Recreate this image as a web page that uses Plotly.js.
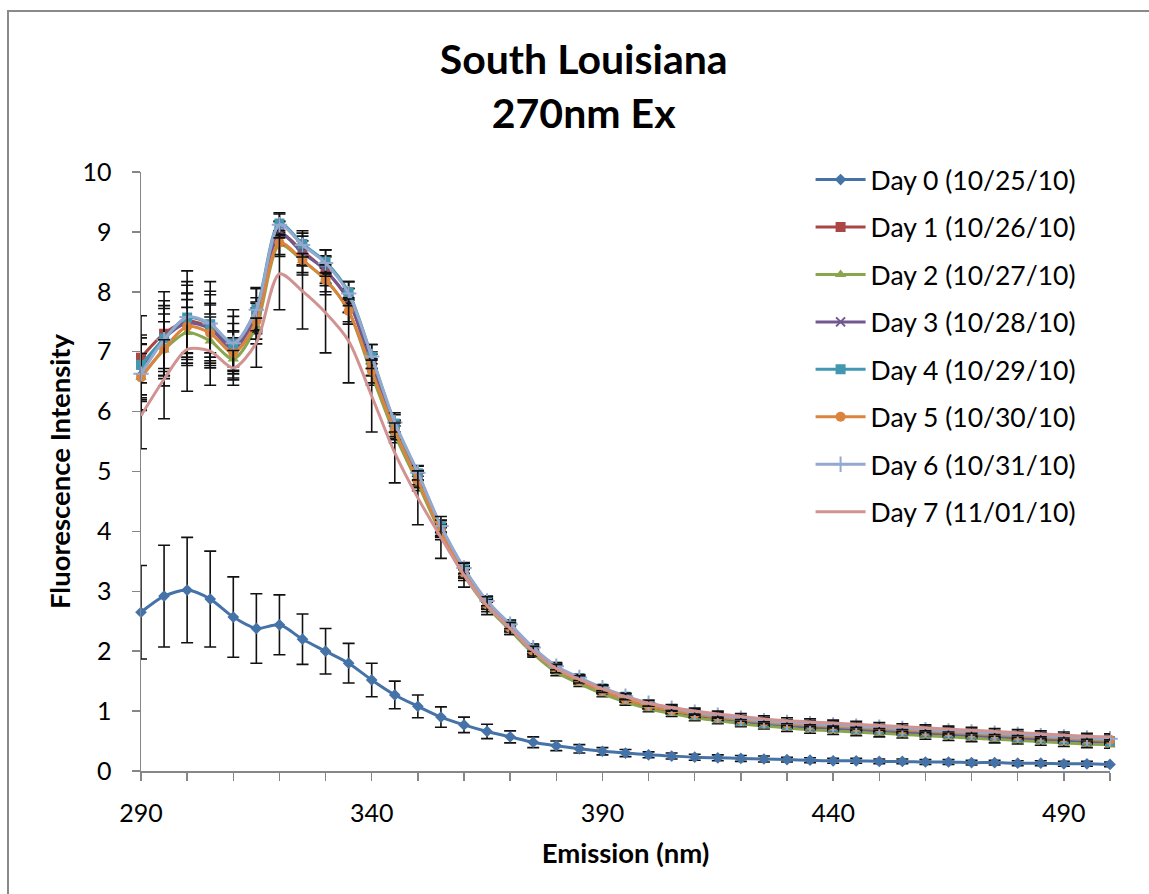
<!DOCTYPE html>
<html>
<head>
<meta charset="utf-8">
<script src="https://cdn.plot.ly/plotly-3.0.1.min.js"></script>
<style>
  html, body { margin:0; padding:0; background:#fff; overflow:hidden; }
  #wrap { position:relative; width:1149px; height:894px; }
  #chart { position:absolute; left:0; top:0; width:1149px; height:894px; }
  #frame { position:absolute; left:7px; top:10px; width:1200px; height:1000px; border:2px solid #8a8a8a; pointer-events:none; }
</style>
</head>
<body>
<div id="wrap"><div id="chart"></div><div id="frame"></div></div>
<script>
// Emission wavelengths (nm)
var wavelength = [290,295,300,305,310,315,320,325,330,335,340,345,350,355,360,365,370,375,380,385,390,395,400,405,410,415,420,425,430,435,440,445,450,455,460,465,470,475,480,485,490,495,500];

var seriesNames = ["Day 0 (10/25/10)","Day 1 (10/26/10)","Day 2 (10/27/10)","Day 3 (10/28/10)","Day 4 (10/29/10)","Day 5 (10/30/10)","Day 6 (10/31/10)","Day 7 (11/01/10)"];

var day0 = [2.65,2.92,3.02,2.87,2.57,2.38,2.44,2.20,2.00,1.80,1.52,1.27,1.08,0.90,0.77,0.66,0.57,0.48,0.42,0.37,0.33,0.30,0.27,0.25,0.23,0.22,0.21,0.20,0.19,0.18,0.17,0.17,0.16,0.16,0.15,0.15,0.14,0.14,0.13,0.13,0.12,0.12,0.11];
var day1 = [6.90,7.30,7.51,7.40,7.07,7.60,8.97,8.68,8.35,7.85,6.80,5.70,4.88,4.02,3.33,2.79,2.40,2.01,1.70,1.51,1.34,1.20,1.08,1.00,0.93,0.88,0.83,0.79,0.76,0.73,0.71,0.69,0.67,0.65,0.63,0.61,0.59,0.57,0.55,0.53,0.51,0.49,0.48];
var day2 = [6.57,7.03,7.32,7.18,6.88,7.43,8.79,8.52,8.20,7.68,6.62,5.62,4.80,3.96,3.27,2.74,2.35,1.96,1.65,1.46,1.29,1.15,1.04,0.96,0.89,0.84,0.79,0.75,0.72,0.69,0.67,0.65,0.63,0.61,0.59,0.57,0.55,0.53,0.51,0.49,0.47,0.45,0.44];
var day3 = [6.68,7.22,7.48,7.38,7.05,7.58,8.98,8.65,8.36,7.86,6.78,5.72,4.90,4.03,3.34,2.80,2.41,2.02,1.71,1.52,1.35,1.21,1.09,1.01,0.94,0.89,0.84,0.80,0.77,0.74,0.72,0.70,0.68,0.66,0.64,0.62,0.60,0.58,0.56,0.54,0.52,0.50,0.49];
var day4 = [6.78,7.22,7.57,7.46,7.13,7.72,9.14,8.80,8.50,7.99,6.92,5.80,4.97,4.08,3.38,2.83,2.44,2.05,1.74,1.55,1.38,1.24,1.10,1.02,0.95,0.90,0.85,0.81,0.78,0.76,0.74,0.72,0.70,0.68,0.66,0.64,0.62,0.60,0.58,0.56,0.54,0.52,0.50];
var day5 = [6.57,7.05,7.42,7.31,6.98,7.51,8.82,8.53,8.20,7.68,6.68,5.68,4.85,4.00,3.31,2.78,2.39,2.00,1.70,1.51,1.34,1.20,1.09,1.01,0.95,0.90,0.86,0.82,0.79,0.77,0.75,0.73,0.71,0.69,0.67,0.65,0.63,0.61,0.59,0.57,0.55,0.53,0.52];
var day6 = [6.63,7.20,7.58,7.47,7.14,7.70,9.12,8.78,8.48,7.97,6.92,5.82,4.98,4.09,3.39,2.84,2.45,2.06,1.75,1.56,1.39,1.25,1.13,1.05,0.98,0.93,0.88,0.84,0.81,0.79,0.77,0.75,0.73,0.71,0.69,0.67,0.65,0.63,0.61,0.59,0.57,0.55,0.54];
var day7 = [5.93,6.54,7.04,7.01,6.73,7.15,8.30,8.01,7.65,7.18,6.26,5.31,4.56,3.90,3.27,2.76,2.38,2.00,1.71,1.53,1.37,1.24,1.13,1.06,1.00,0.95,0.91,0.87,0.84,0.82,0.80,0.78,0.76,0.74,0.72,0.70,0.68,0.66,0.64,0.62,0.60,0.58,0.57];

// Standard deviations (error bars)
var err0 = [0.78,0.85,0.88,0.80,0.67,0.58,0.50,0.42,0.38,0.33,0.28,0.23,0.19,0.17,0.13,0.12,0.10,0.09,0.08,0.07,0.06,0.06,0.05,0.05,0.05,0.05,0.05,0.05,0.04,0.04,0.04,0.04,0.04,0.04,0.04,0.04,0.04,0.04,0.04,0.04,0.04,0.04,0.04];
var err1 = [0.70,0.70,0.60,0.55,0.40,0.30,0.20,0.25,0.25,0.20,0.20,0.15,0.12,0.10,0.09,0.08,0.07,0.06,0.06,0.06,0.05,0.05,0.05,0.05,0.05,0.05,0.06,0.05,0.05,0.05,0.06,0.05,0.05,0.05,0.06,0.05,0.05,0.05,0.06,0.05,0.05,0.05,0.05];
var err2 = [0.55,0.60,0.55,0.45,0.35,0.30,0.20,0.20,0.20,0.18,0.18,0.14,0.12,0.10,0.09,0.08,0.07,0.06,0.06,0.05,0.05,0.05,0.05,0.05,0.05,0.05,0.05,0.05,0.06,0.06,0.06,0.06,0.06,0.06,0.06,0.06,0.06,0.06,0.06,0.06,0.06,0.06,0.06];
var err3 = [0.45,0.50,0.50,0.40,0.30,0.25,0.20,0.20,0.22,0.20,0.18,0.14,0.12,0.10,0.09,0.08,0.07,0.06,0.06,0.05,0.05,0.05,0.05,0.05,0.05,0.05,0.05,0.05,0.05,0.05,0.05,0.05,0.05,0.05,0.05,0.05,0.05,0.05,0.05,0.05,0.05,0.05,0.05];
var err4 = [0.50,0.55,0.60,0.55,0.57,0.35,0.18,0.22,0.20,0.18,0.20,0.15,0.12,0.10,0.09,0.08,0.07,0.06,0.06,0.05,0.05,0.05,0.05,0.05,0.05,0.05,0.05,0.05,0.05,0.05,0.05,0.05,0.05,0.05,0.05,0.05,0.05,0.05,0.05,0.05,0.05,0.05,0.05];
var err5 = [0.40,0.45,0.55,0.50,0.35,0.30,0.20,0.25,0.25,0.22,0.20,0.15,0.12,0.10,0.09,0.08,0.07,0.06,0.06,0.05,0.05,0.05,0.05,0.05,0.05,0.05,0.05,0.05,0.05,0.05,0.05,0.05,0.05,0.05,0.05,0.05,0.05,0.05,0.05,0.05,0.05,0.05,0.05];
var err6 = [0.60,0.65,0.77,0.70,0.45,0.35,0.18,0.20,0.22,0.20,0.20,0.16,0.12,0.10,0.09,0.08,0.07,0.06,0.06,0.05,0.05,0.05,0.05,0.05,0.05,0.05,0.05,0.05,0.05,0.05,0.05,0.05,0.05,0.05,0.05,0.05,0.05,0.05,0.05,0.05,0.05,0.05,0.05];
var err7 = [0.55,0.66,0.70,0.57,0.29,0.41,0.60,0.63,0.67,0.70,0.60,0.50,0.45,0.35,0.20,0.15,0.10,0.08,0.07,0.06,0.06,0.05,0.05,0.05,0.05,0.05,0.05,0.05,0.05,0.05,0.05,0.05,0.05,0.05,0.05,0.05,0.05,0.05,0.05,0.05,0.05,0.05,0.05];

var seriesColors = ["#4572A7","#AA4643","#89A54E","#71588F","#4198AF","#DB843D","#93A9CF","#D19392"];
var seriesSymbols = ["diamond","square","triangle-up","x-thin","square","circle","cross-thin", null];
var markerSizes = [9,10,10,9,10,10,11,0];

var allY = [day0,day1,day2,day3,day4,day5,day6,day7];
var allErr = [err0,err1,err2,err3,err4,err5,err6,err7];

var traces = allY.map(function(y, i){
  var t = {
    type:'scatter',
    mode: seriesSymbols[i] ? 'lines+markers' : 'lines',
    name: seriesNames[i],
    legendgroup: 'g'+i,
    x: wavelength,
    y: y,
    cliponaxis:false,
    line:{color:seriesColors[i], width:3, shape:'spline', smoothing:0.8},
    error_y:{type:'data', array:allErr[i], visible:true, color:'#111111', thickness:1.6, width:6}
  };
  if (seriesSymbols[i]) {
    var thin = seriesSymbols[i].indexOf('thin') >= 0;
    t.marker = {symbol:seriesSymbols[i], size:markerSizes[i], color:seriesColors[i],
      line:{color:seriesColors[i], width: thin ? 2 : 0}};
  }
  return t;
});

var axisColor = '#868686';
var layout = {
  width:1149, height:894,
  margin:{l:141, r:39, t:172, b:123, pad:0},
  paper_bgcolor:'#ffffff', plot_bgcolor:'#ffffff',
  font:{family:'Lato, Carlito, "Open Sans", sans-serif', size:25, color:'#000000'},
  title:{text:'<b>South Louisiana</b><br><b>270nm Ex</b>', xref:'container', x:0.508, xanchor:'center',
         yref:'container', y:0.917, yanchor:'top', font:{size:41, color:'#000'}},
  showlegend:true,
  legend:{xref:'paper', yref:'paper', x:0.691, y:1.027, xanchor:'left', yanchor:'top',
          font:{size:26.5}, traceorder:'grouped', tracegroupgap:10, itemwidth:50,
          bgcolor:'rgba(0,0,0,0)', borderwidth:0},
  xaxis:{range:[290,500], tick0:290, dtick:50, showline:true, linecolor:axisColor, linewidth:1.5,
         ticks:'outside', ticklen:8, tickwidth:1.5, tickcolor:axisColor, showgrid:false, zeroline:false,
         ticklabelstandoff:11,
         minor:{tick0:290, dtick:10, ticks:'outside', ticklen:8, tickwidth:1.5, tickcolor:axisColor, showgrid:false},
         title:{text:'<b>Emission (nm)</b>', font:{size:27.5}, standoff:18}},
  yaxis:{range:[0,10], dtick:1, showline:true, linecolor:axisColor, linewidth:1.5,
         ticks:'outside', ticklen:8, tickwidth:1.5, tickcolor:axisColor, showgrid:false, zeroline:false,
         ticklabelstandoff:15,
         title:{text:'<b>Fluorescence Intensity</b>', font:{size:27.5}, standoff:4}}
};

Plotly.newPlot('chart', traces, layout, {displayModeBar:false, staticPlot:true});
</script>
</body>
</html>
